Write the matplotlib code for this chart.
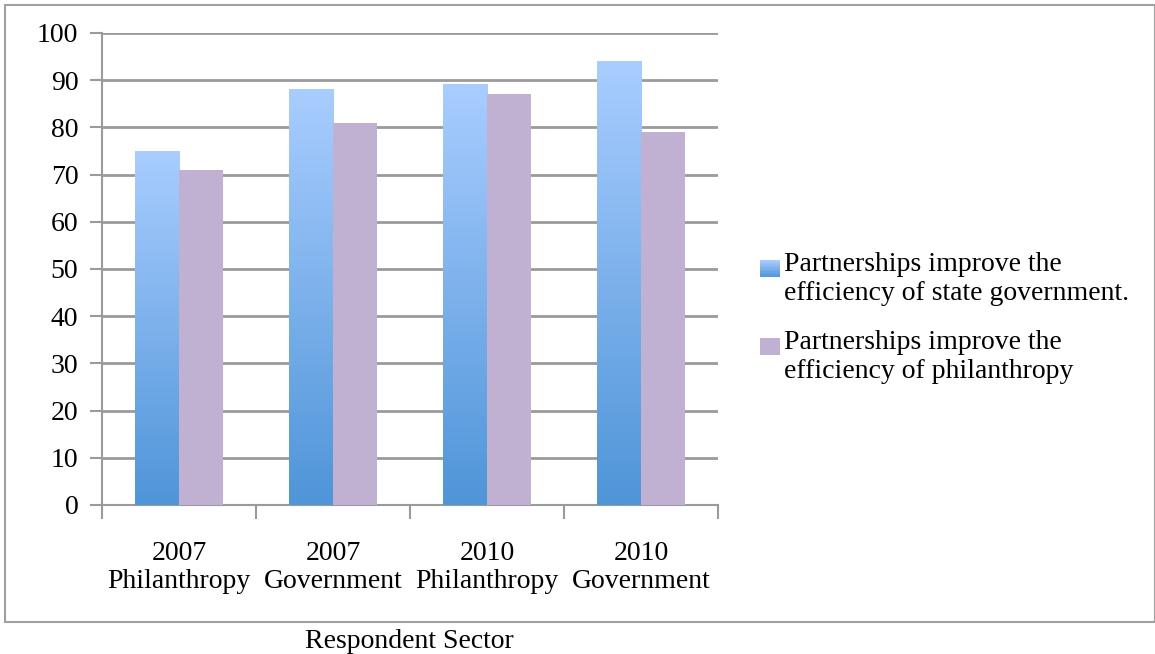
import numpy as np
import matplotlib
matplotlib.use("Agg")
import matplotlib.pyplot as plt
from matplotlib.patches import Rectangle
from matplotlib.legend_handler import HandlerBase
from matplotlib.colors import LinearSegmentedColormap

categories = ["2007\nPhilanthropy", "2007\nGovernment", "2010\nPhilanthropy", "2010\nGovernment"]
state_gov = [75, 88, 89, 94]
philanthropy = [71, 81, 87, 79]
series_names = ["Partnerships improve the\nefficiency of state government.",
                "Partnerships improve the\nefficiency of philanthropy"]
y_ticks = [0, 10, 20, 30, 40, 50, 60, 70, 80, 90, 100]

FONT = "Liberation Serif"
FS = 20
blue_top = "#A9CDFF"
blue_bot = "#4F95D8"
purple = "#C0B1D3"
grid_c = "#9A9A9A"

fig = plt.figure(figsize=(11.55, 6.54), dpi=100)
ax = fig.add_axes([102/1155, 149/654, 616/1155, 472/654])

# outer frame
fig.patches.append(Rectangle((5/1155, 32/654), 1150/1155, 617/654, transform=fig.transFigure,
                             fill=False, edgecolor="#A0A0A0", linewidth=1.5))

cmap = LinearSegmentedColormap.from_list("bl", [blue_bot, blue_top])
grad = np.linspace(0, 1, 256).reshape(-1, 1)

x = np.arange(len(categories))
w = 0.286
for i, (a, b) in enumerate(zip(state_gov, philanthropy)):
    x0 = x[i] - w
    ax.imshow(grad, cmap=cmap, origin="lower", extent=[x0, x[i], 0, a], aspect="auto", zorder=3)
    ax.bar(x[i], b, width=w, align="edge", color=purple, zorder=3)

ax.set_xlim(-0.5, 3.5)
ax.set_ylim(0, 100)
ax.set_yticks(y_ticks)
ax.grid(axis="y", color=grid_c, linewidth=2, zorder=1)
ax.set_axisbelow(True)
for s in ["top", "right"]:
    ax.spines[s].set_visible(False)
for s in ["left", "bottom"]:
    ax.spines[s].set_color(grid_c)
    ax.spines[s].set_linewidth(1.5)
ax.tick_params(axis="y", length=9, color=grid_c, width=1.5, labelsize=FS, pad=8)
ax.set_xticks([-0.5, 0.5, 1.5, 2.5, 3.5])
ax.set_xticklabels([])
ax.tick_params(axis="x", which="major", length=10, color=grid_c, width=1.5)
ax.set_xticks(x, minor=True)
ax.set_xticklabels(categories, minor=True)
ax.tick_params(axis="x", which="minor", length=0, labelsize=FS, pad=26)
for lab in ax.get_xticklabels(minor=True) + ax.get_yticklabels():
    lab.set_fontfamily(FONT)
for lab in ax.get_xticklabels(minor=True):
    lab.set_linespacing(1.15)

OFFSET = 7.0  # points, raise handle toward first text line

class GradHandler(HandlerBase):
    def create_artists(self, legend, orig_handle, xdescent, ydescent, width, height, fontsize, trans):
        arts = []
        n = 12
        for k in range(n):
            c = cmap(1 - (k + 0.5) / n)
            arts.append(Rectangle((-xdescent, -ydescent + OFFSET + height - (k + 1) * height / n),
                                  width, height / n + 0.3, facecolor=c, edgecolor="none",
                                  transform=trans))
        return arts

class FlatHandler(HandlerBase):
    def create_artists(self, legend, orig_handle, xdescent, ydescent, width, height, fontsize, trans):
        return [Rectangle((-xdescent, -ydescent + OFFSET), width, height,
                          facecolor=orig_handle.get_facecolor(), edgecolor="none", transform=trans)]

h1 = Rectangle((0, 0), 1, 1, facecolor=blue_top)
h2 = Rectangle((0, 0), 1, 1, facecolor=purple)
leg = fig.legend([h1, h2], series_names, loc="center left", bbox_to_anchor=(735/1155, 1 - 318/654),
                 frameon=False, prop={"family": FONT, "size": FS},
                 handler_map={h1: GradHandler(), h2: FlatHandler()},
                 handlelength=0.72, handleheight=0.55,
                 handletextpad=0.15, labelspacing=0.85)
for t in leg.get_texts():
    t.set_linespacing(1.22)

fig.text(409/1155, 1 - 641/654, "Respondent Sector", ha="center", va="center",
         fontfamily=FONT, fontsize=FS)

fig.savefig("out.png", dpi=100)
